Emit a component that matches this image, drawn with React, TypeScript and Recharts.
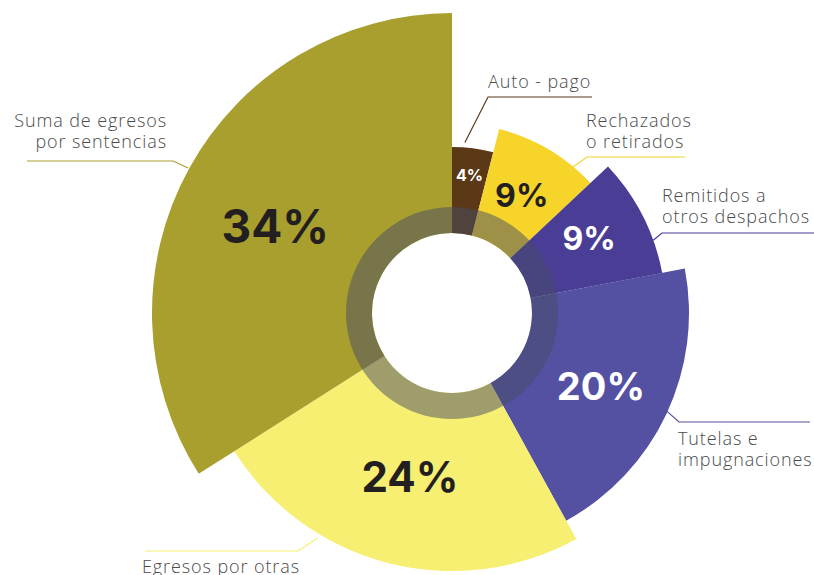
import { PieChart, Pie, Cell } from "recharts";

// shares of each exit type (%), clockwise from 12 o'clock
const CATEGORIES = [
  "Auto - pago",
  "Rechazados o retirados",
  "Remitidos a otros despachos",
  "Tutelas e impugnaciones",
  "Egresos por otras",
  "Suma de egresos por sentencias",
];
const SHARES = [4, 9, 9, 20, 24, 34];
const LABEL_LINES = [
  ["Auto - pago"],
  ["Rechazados", "o retirados"],
  ["Remitidos a", "otros despachos"],
  ["Tutelas e", "impugnaciones"],
  ["Egresos por otras"],
  ["Suma de egresos", "por sentencias"],
];

const COLORS = ["#5b3816", "#f6d42a", "#4a3d96", "#5450a2", "#f7ef72", "#a99f2e"];
const OUTER_R = [166, 190, 214, 237, 258, 300];
const INNER_R = 80;
const CX = 452;
const CY = 313;

// percent text inside slices
const PCT_R = [139, 137, 156, 166, 169, 197];
const PCT_DA = [0, 0, 1.5, -1, 0, 2.6];
const PCT_SIZE = [16, 32, 32, 38, 42, 46];
const PCT_COLOR = ["#fff", "#231f20", "#fff", "#fff", "#231f20", "#231f20"];

// callout leader lines + text
const CALLOUTS = [
  { frac: 0.3, dr: 5, elbow: [488, 97], endX: 592, tx: 488, ty: 88, anchor: "start" },
  { frac: 0.78, dr: 0, elbow: [587, 157], endX: 685, tx: 586, ty: 127, anchor: "start" },
  { frac: 0.72, dr: 0, elbow: [662, 233], endX: 814, tx: 662, ty: 202, anchor: "start" },
  { frac: 0.49, dr: -2, elbow: [679, 422], endX: 810, tx: 678, ty: 445, anchor: "start" },
  { frac: 0.69, dr: 4, elbow: [298, 551], endX: 145, tx: 142, ty: 573, anchor: "start" },
  { frac: 0.5, dr: 1, elbow: [173, 161], endX: 27, tx: 167, ty: 127, anchor: "end" },
];

const data = CATEGORIES.map((name, i) => ({ name, value: SHARES[i] }));
const RAD = Math.PI / 180;

const makeLabel = (own: number) => (p: any) => {
  if (p.index !== own) return null;
  const { cx, cy, midAngle, startAngle, endAngle, outerRadius } = p;
  const c = CALLOUTS[own];
  const r = PCT_R[own];
  const ma = midAngle + PCT_DA[own];
  const px = cx + r * Math.cos(-ma * RAD);
  const py = cy + r * Math.sin(-ma * RAD);
  const a = startAngle + (endAngle - startAngle) * c.frac;
  const sr = outerRadius + c.dr;
  const sx = cx + sr * Math.cos(-a * RAD);
  const sy = cy + sr * Math.sin(-a * RAD);
  return (
    <g>
      <text
        x={px}
        y={py}
        textAnchor="middle"
        dominantBaseline="central"
        fill={PCT_COLOR[own]}
        fontSize={PCT_SIZE[own]}
        fontWeight={700}
        fontFamily="Inter, sans-serif"
      >
        {`${p.value}%`}
      </text>
      <polyline
        points={`${sx},${sy} ${c.elbow[0]},${c.elbow[1]} ${c.endX},${c.elbow[1]}`}
        fill="none"
        stroke={COLORS[own]}
        strokeWidth={1.2}
      />
      <text
        x={c.tx}
        y={c.ty}
        textAnchor={c.anchor as any}
        fill="#4a4a4a"
        fontSize={18}
        fontWeight={300}
        letterSpacing={0.9}
        fontFamily="'Open Sans', sans-serif"
      >
        {LABEL_LINES[own].map((t, k) => (
          <tspan key={k} x={c.tx} dy={k === 0 ? 0 : 21}>
            {t}
          </tspan>
        ))}
      </text>
    </g>
  );
};

export default function App() {
  return (
    <div style={{ position: "absolute", left: 0, top: 0, background: "#fff" }}>
      <PieChart width={814} height={575} margin={{ top: 0, right: 0, bottom: 0, left: 0 }}>
        {SHARES.map((_, own) => (
          <Pie
            key={own}
            data={data}
            dataKey="value"
            nameKey="name"
            cx={CX}
            cy={CY}
            startAngle={90}
            endAngle={-270}
            innerRadius={INNER_R}
            outerRadius={OUTER_R[own]}
            stroke="none"
            label={makeLabel(own)}
            labelLine={false}
            isAnimationActive={false}
          >
            {data.map((d, i) => (
              <Cell key={d.name} fill={i === own ? COLORS[i] : "transparent"} />
            ))}
          </Pie>
        ))}
        {/* translucent ring around the hole */}
        <Pie
          data={[{ name: "ring", value: 1 }]}
          dataKey="value"
          cx={CX}
          cy={CY}
          startAngle={90}
          endAngle={-270}
          innerRadius={INNER_R}
          outerRadius={106}
          fill="rgb(70,75,100)"
          fillOpacity={0.5}
          stroke="none"
          isAnimationActive={false}
        />
      </PieChart>
    </div>
  );
}
